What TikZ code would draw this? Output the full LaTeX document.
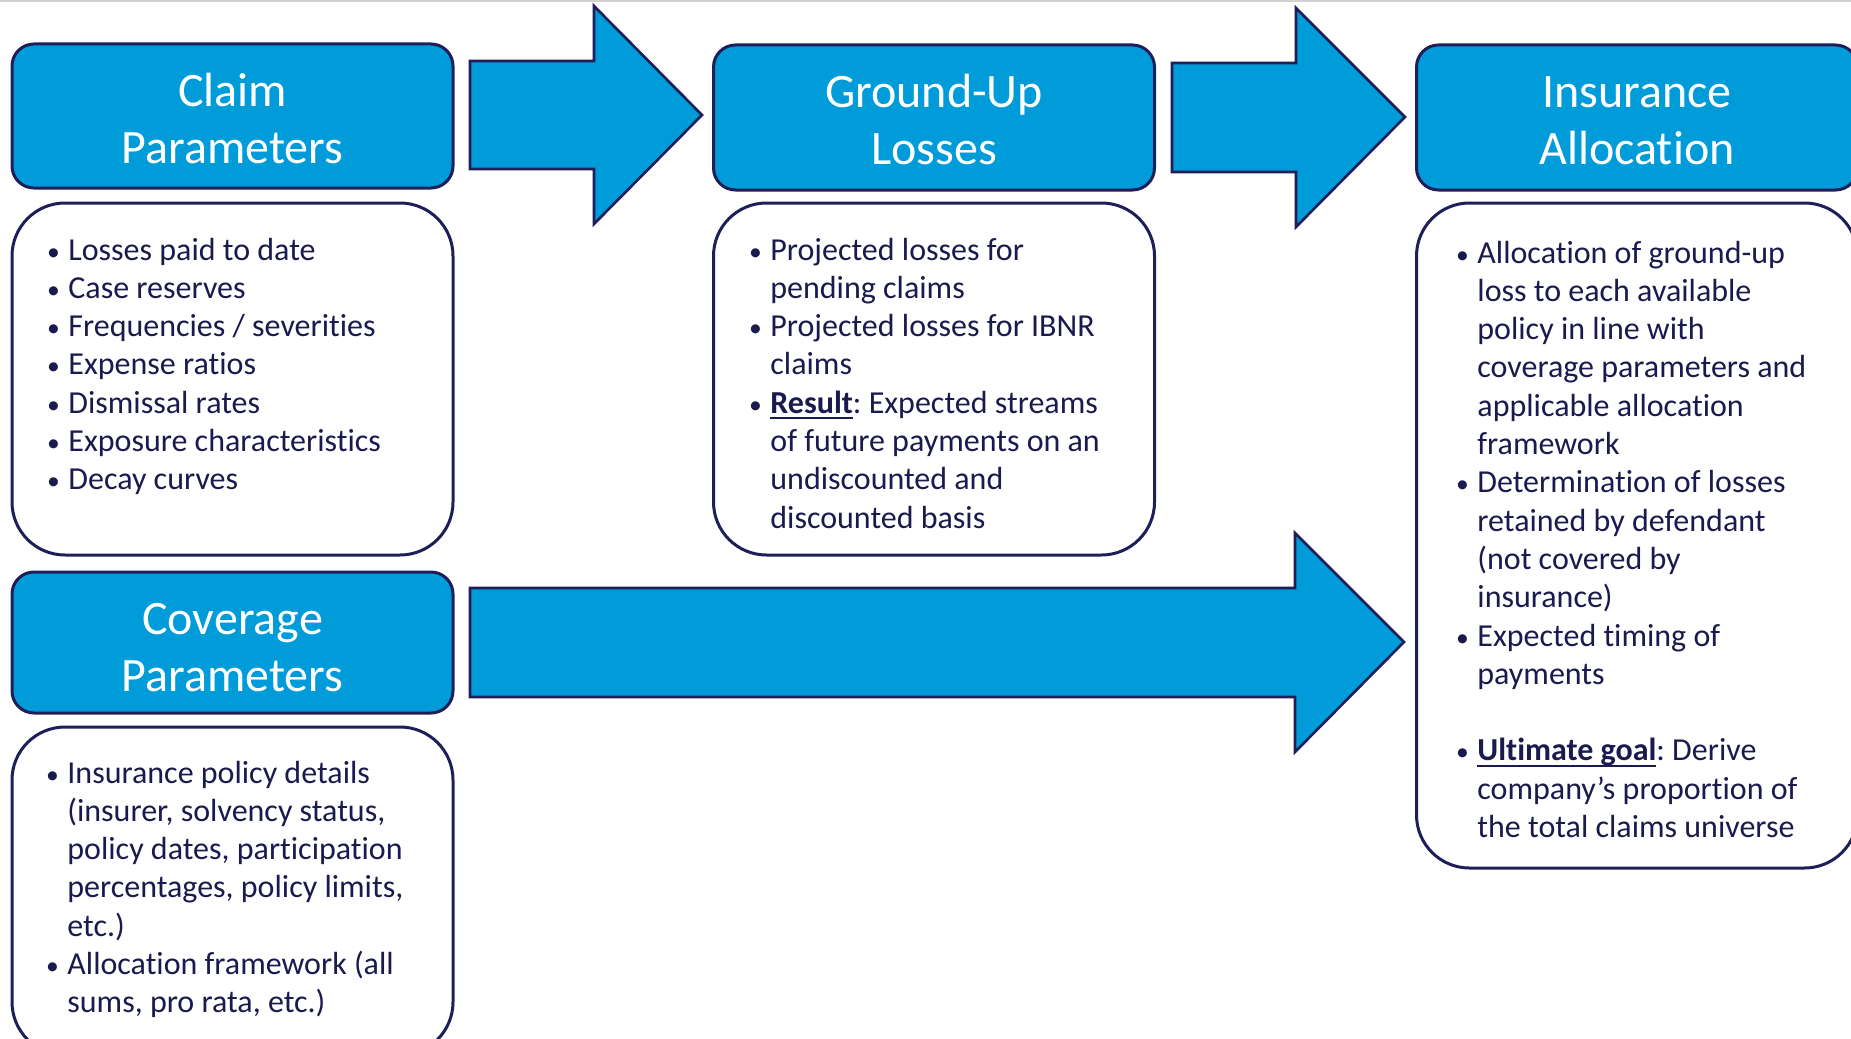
\documentclass[tikz,border=0pt]{standalone}
\usepackage{fontspec}
\setmainfont{Carlito}[Ligatures=NoCommon, RawFeature={-calt;-dlig}]
\frenchspacing
\definecolor{boxblue}{RGB}{0,156,218}
\definecolor{navy}{RGB}{30,30,88}
\definecolor{txtnavy}{RGB}{26,26,78}
\newlength{\bulw}
\setlength{\bulw}{11.5pt}
\newcommand{\bul}{\makebox[\bulw][l]{\makebox[8pt]{\scalebox{0.8}{•}}}}
\newcommand{\ind}{\hspace*{\bulw}}
\newcommand{\ulbf}[1]{\setbox0=\hbox{\bfseries #1}\rlap{\rule[-3pt]{\wd0}{0.9pt}}\box0}
\tikzset{
  hdr/.style={draw=navy, line width=1.5pt, fill=boxblue, rounded corners=11pt,
    minimum width=220.5pt},
  hdrtext/.style={text=white, align=center, inner sep=0pt,
    font=\fontsize{24pt}{28.5pt}\selectfont},
  bodybox/.style={draw=navy, line width=1.5pt, fill=white, rounded corners=26.5pt,
    minimum width=220.5pt},
  bodytext/.style={anchor=base west, inner sep=0pt, text=txtnavy,
    font=\fontsize{16pt}{19.15pt}\selectfont},
  blockarrow/.style={draw=navy, line width=1.3pt, fill=boxblue, line join=miter}
}
\begin{document}
\begin{tikzpicture}[x=0.5pt, y=-0.5pt]
  \useasboundingbox (0,0) rectangle (1851,1038);
  \draw [gray!35, line width=1pt] (0,1) -- (1851,1);
  % headers
  \node [hdr, minimum height=72pt] (claimhdr) at (232.5,116) {};
  \node [hdr, minimum height=72.5pt] (guhdr) at (934,117.5) {};
  \node [hdr, minimum height=72.5pt] (iahdr) at (1637,117.5) {};
  \node [hdr, minimum height=70.5pt] (covhdr) at (232.5,642.5) {};
  \node [hdrtext] (claimlbl) at ([yshift=-1.2pt]claimhdr.center) {Claim\\Parameters};
  \node [hdrtext] (gulbl) at ([yshift=-1.2pt]guhdr.center) {Ground-Up\\Losses};
  \node [hdrtext] (ialbl) at ([yshift=-1.6pt]iahdr.center) {Insurance\\Allocation};
  \node [hdrtext] (covlbl) at ([yshift=-2.6pt]covhdr.center) {Coverage\\Parameters};
  % body boxes
  \node [bodybox, minimum height=176pt] (claimbody) at (232.5,379) {};
  \node [bodybox, minimum height=176pt] (gubody) at (934,379) {};
  \node [bodybox, minimum height=332.5pt] (iabody) at (1637,535.5) {};
  \node [bodybox, minimum height=164pt] (covbody) at (232.5,891) {};
  % block arrows
  \draw [blockarrow] (470,61) -- (594,61) -- (594,6) -- (702,115) -- (594,224) -- (594,169) -- (470,169) -- cycle;
  \draw [blockarrow] (1172,63) -- (1296,63) -- (1296,8) -- (1405,117) -- (1296,227) -- (1296,172) -- (1172,172) -- cycle;
  \draw [blockarrow] (470,588) -- (1295,588) -- (1295,533) -- (1404,642) -- (1295,752) -- (1295,697) -- (470,697) -- cycle;
  % texts
  \node [bodytext] (claimtxt) at (45,260) {\begin{tabular}[t]{@{}l@{}}
    \bul Losses paid to date\\
    \bul Case reserves\\
    \bul Frequencies / severities\\
    \bul Expense ratios\\
    \bul Dismissal rates\\
    \bul Exposure characteristics\\
    \bul Decay curves
  \end{tabular}};
  \node [bodytext] (gutxt) at (747,260) {\begin{tabular}[t]{@{}l@{}}
    \bul Projected losses for\\
    \ind pending claims\\
    \bul Projected losses for IBNR\\
    \ind claims\\
    \bul \ulbf{Result}: Expected streams\\
    \ind of future payments on an\\
    \ind undiscounted and\\
    \ind discounted basis
  \end{tabular}};
  \node [bodytext] (iatxt) at (1454,263) {\begin{tabular}[t]{@{}l@{}}
    \bul Allocation of ground-up\\
    \ind loss to each available\\
    \ind policy in line with\\
    \ind coverage parameters and\\
    \ind applicable allocation\\
    \ind framework\\
    \bul Determination of losses\\
    \ind retained by defendant\\
    \ind (not covered by\\
    \ind insurance)\\
    \bul Expected timing of\\
    \ind payments\\
    \\
    \bul \ulbf{Ultimate goal}: Derive\\
    \ind company’s proportion of\\
    \ind the total claims universe
  \end{tabular}};
  \node [bodytext] (covtxt) at (44,783) {\begin{tabular}[t]{@{}l@{}}
    \bul Insurance policy details\\
    \ind (insurer, solvency status,\\
    \ind policy dates, participation\\
    \ind percentages, policy limits,\\
    \ind etc.)\\
    \bul Allocation framework (all\\
    \ind sums, pro rata, etc.)
  \end{tabular}};
\end{tikzpicture}
\end{document}
